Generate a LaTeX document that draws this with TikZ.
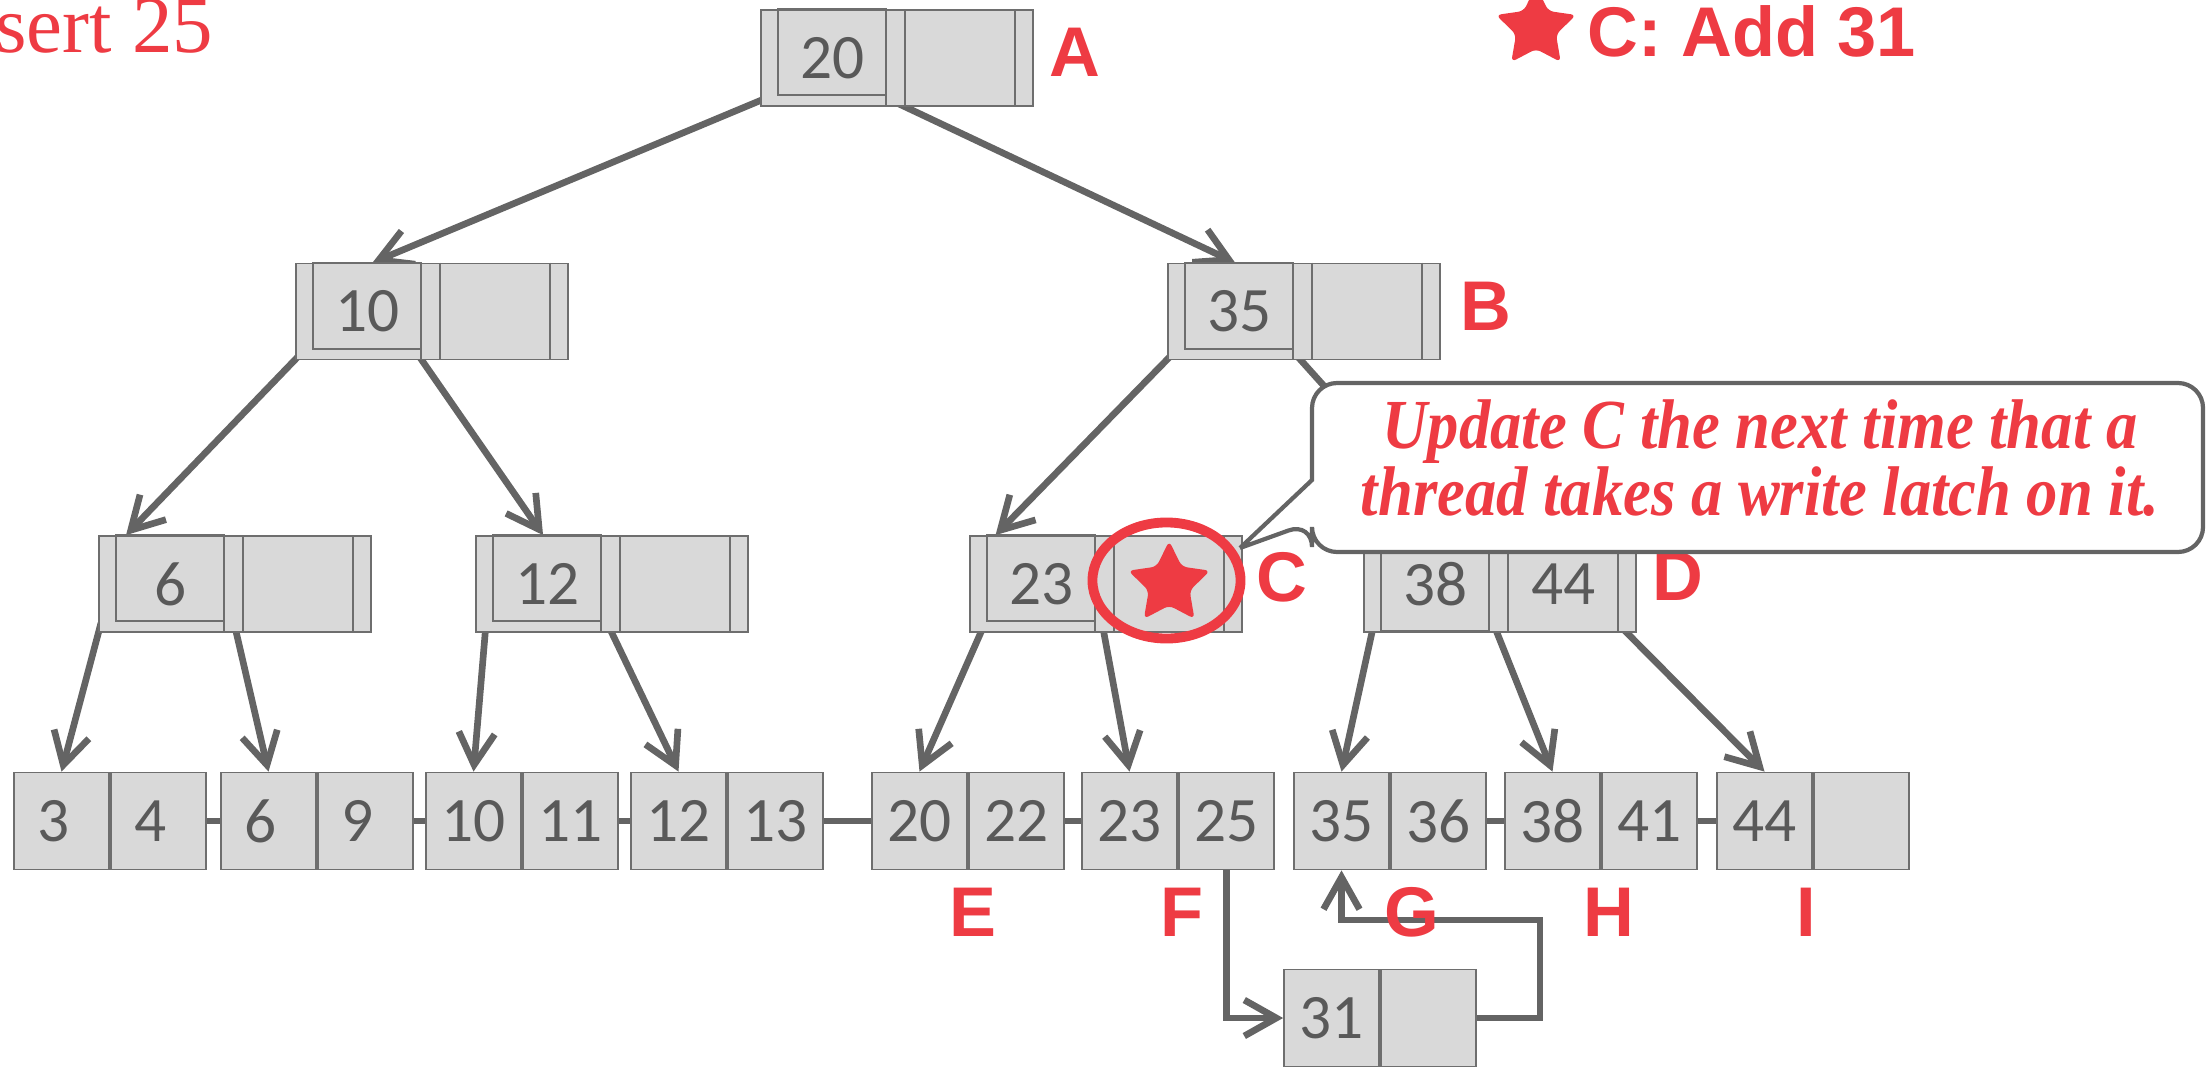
\documentclass[tikz,border=0pt]{standalone}
\usepackage{fontspec}
\setmainfont{Liberation Serif}
\newfontfamily\keyfont{Carlito}
\newfontfamily\labelfont{Liberation Sans}
\newfontfamily\notefont[FakeStretch=0.89]{Liberation Serif}
\definecolor{cellgray}{HTML}{D9D9D9}
\definecolor{boxgray}{HTML}{6E6E6E}
\definecolor{keygray}{HTML}{595959}
\definecolor{edgegray}{HTML}{646464}
\definecolor{alertred}{HTML}{EE3B43}
\usetikzlibrary{shapes.geometric,arrows.meta,positioning,calc}
\pgfdeclarelayer{background}
\pgfsetlayers{background,main}

\tikzset{
  outerbox/.style={draw=boxgray, fill=cellgray, line width=0.5pt, minimum width=2.72cm, minimum height=0.96cm, inner sep=0pt},
  boxline/.style={draw=boxgray, line width=0.5pt},
  keytext/.style={text=keygray, font=\keyfont\fontsize{18}{18}\selectfont, inner sep=0pt},
  cell/.style={draw=boxgray, fill=cellgray, line width=0.5pt, minimum width=0.95cm, minimum height=0.97cm, inner sep=0pt,
    text=keygray, font=\keyfont\fontsize{18}{18}\selectfont},
  treeedge/.style={draw=edgegray, line width=1.9pt, -{Straight Barb[length=0.32cm,width=0.36cm]}},
  leaflink/.style={draw=edgegray, line width=1.8pt},
  redlabel/.style={text=alertred, font=\labelfont\bfseries\fontsize{20}{20}\selectfont, inner sep=0pt},
  callout/.style={draw=edgegray, fill=white, line width=1.2pt},
  notetext/.style={text=alertred, font=\notefont\bfseries\itshape\fontsize{20}{19}\selectfont, align=center, inner sep=0pt},
  starmark/.style={star, star points=5, star point ratio=2.0, fill=alertred, inner sep=0pt, rounded corners=1.5pt},
}

% single digit keys sit a little left of the cell centre
\newcommand{\onedig}[1]{\kern-0.16cm#1}

% inner node: [key box depth]{name}{centre}{key 1}{key 2}
\newcommand{\innernode}[5][0.86cm]{%
  \node[outerbox] (#2) at (#3) {};
  \draw[boxline] ([xshift=0.18cm]#2.north west) rectangle ([xshift=1.26cm,yshift=-#1]#2.north west);
  \draw[boxline] ([xshift=1.26cm]#2.north west) -- ([xshift=1.26cm]#2.south west);
  \draw[boxline] ([xshift=1.45cm]#2.north west) -- ([xshift=1.45cm]#2.south west);
  \draw[boxline] ([xshift=2.55cm]#2.north west) -- ([xshift=2.55cm]#2.south west);
  \node[keytext] (#2-k1) at ([xshift=0.72cm]#2.west) {#4};
  \node[keytext] (#2-k2) at ([xshift=2.00cm]#2.west) {#5};
}

\begin{document}
\begin{tikzpicture}[x=0.01cm, y=-0.01cm]
  \useasboundingbox (0,0) rectangle (2210,1067);

  % title
  \node[anchor=base east, text=alertred, font=\fontsize{23}{23}\selectfont, inner sep=0pt] (insert) at (214,53) {Insert 25};
  \node[starmark, minimum size=0.84cm] (titlestar) at (1536,28) {};
  \node[redlabel, anchor=base west] (title) at (1587,57) {C: Add 31};

  % inner nodes
  \innernode{A}{897,58}{20}{}
  \innernode{N10}{432,311.5}{10}{}
  \innernode{B}{1304,311.5}{35}{}
  \innernode{N6}{235,584}{6}{}
  \innernode{N12}{612,584}{12}{}
  \innernode{C}{1106,584}{23}{}
  \innernode[0.96cm]{D}{1500,584}{38}{44}
  \node[starmark, minimum size=0.86cm] (cstar) at (C-k2) {};

  % leaves
  \foreach \n/\x/\p/\q in {L1/14/\onedig{3}/\onedig{4}, L2/221/\onedig{6}/\onedig{9}, L3/426/10/11, L4/631/12/13,
      L5/872/20/22, L6/1082/23/25, L7/1294/35/36, L8/1505/38/41, L9/1717/44/} {
    \node[cell] (\n-a) at (\x+47.5,821) {\p};
    \node[cell, right=0pt of \n-a] (\n-b) {\q};
  }
  \foreach \p/\q in {L1/L2, L2/L3, L3/L4, L4/L5, L5/L6, L7/L8, L8/L9}
    \draw[leaflink] (\p-b.east) -- (\q-a.west);

  % new leaf
  \node[cell] (N31-a) at (1331.5,1018) {31};
  \node[cell, right=0pt of N31-a] (N31-b) {};
  \coordinate (loopturn) at (1540,920);
  \draw[treeedge] (L6-b.south) |- (N31-a.west);
  \draw[treeedge] (N31-b.east) -| (loopturn) -| (L7-a.south);

  % tree edges
  \begin{pgfonlayer}{background}
    \draw[treeedge] ($(A.south west)+(9,-10)$) -- ($(N10.north west)+(77.5,0)$);
    \draw[treeedge] ($(A.south west)+(124,-10)$) -- ($(B.north west)+(68,0)$);
    \draw[treeedge] ($(N10.south west)+(9,-10)$) -- ($(N6.north west)+(28,0)$);
    \draw[treeedge] ($(N10.south west)+(120,-10)$) -- ($(N12.north west)+(68,0)$);
    \draw[treeedge] ($(B.south west)+(9,-10)$) -- ($(C.north west)+(26.5,0)$);
    \draw[treeedge] ($(B.south west)+(125,-10)$) -- ($(D.north west)+(95,0)$);
    \foreach \p/\dx/\c in {N6/3/L1, N6/136/L2, N12/11/L3, N12/132/L4,
        C/16/L5, C/133/L6, D/11/L7, D/130/L8, D/254/L9}
      \draw[treeedge] ($(\p.south west)+(\dx,-10)$) -- (\c-a.north);
  \end{pgfonlayer}

  % highlight on C
  \draw[alertred, line width=2.8pt] (1166.5,580.5) ellipse [x radius=0.74cm, y radius=0.58cm];

  % node labels
  \node[redlabel] (labA) at (1075,52) {A};
  \node[redlabel] (labB) at (1486,306) {B};
  \node[redlabel] (labC) at (1282,577) {C};
  \node[redlabel] (labD) at (1678,576) {D};
  \node[redlabel] (labE) at (973,912) {E};
  \node[redlabel] (labF) at (1182,912) {F};
  \node[redlabel] (labG) at (1412,912) {G};
  \node[redlabel] (labH) at (1609,912) {H};
  \node[redlabel] (labI) at (1806,912) {I};

  % callout
  \draw[callout] (1240,548) -- (1312,480) [rounded corners=0.25cm] -- (1312,383) -- (2203,383)
    -- (2203,552) -- (1312,552) -- (1312,522) -- (1240,548);
  \node[notetext] (note) at (1760,458) {Update C the next time that a\\thread takes a write latch on it.};
\end{tikzpicture}
\end{document}
